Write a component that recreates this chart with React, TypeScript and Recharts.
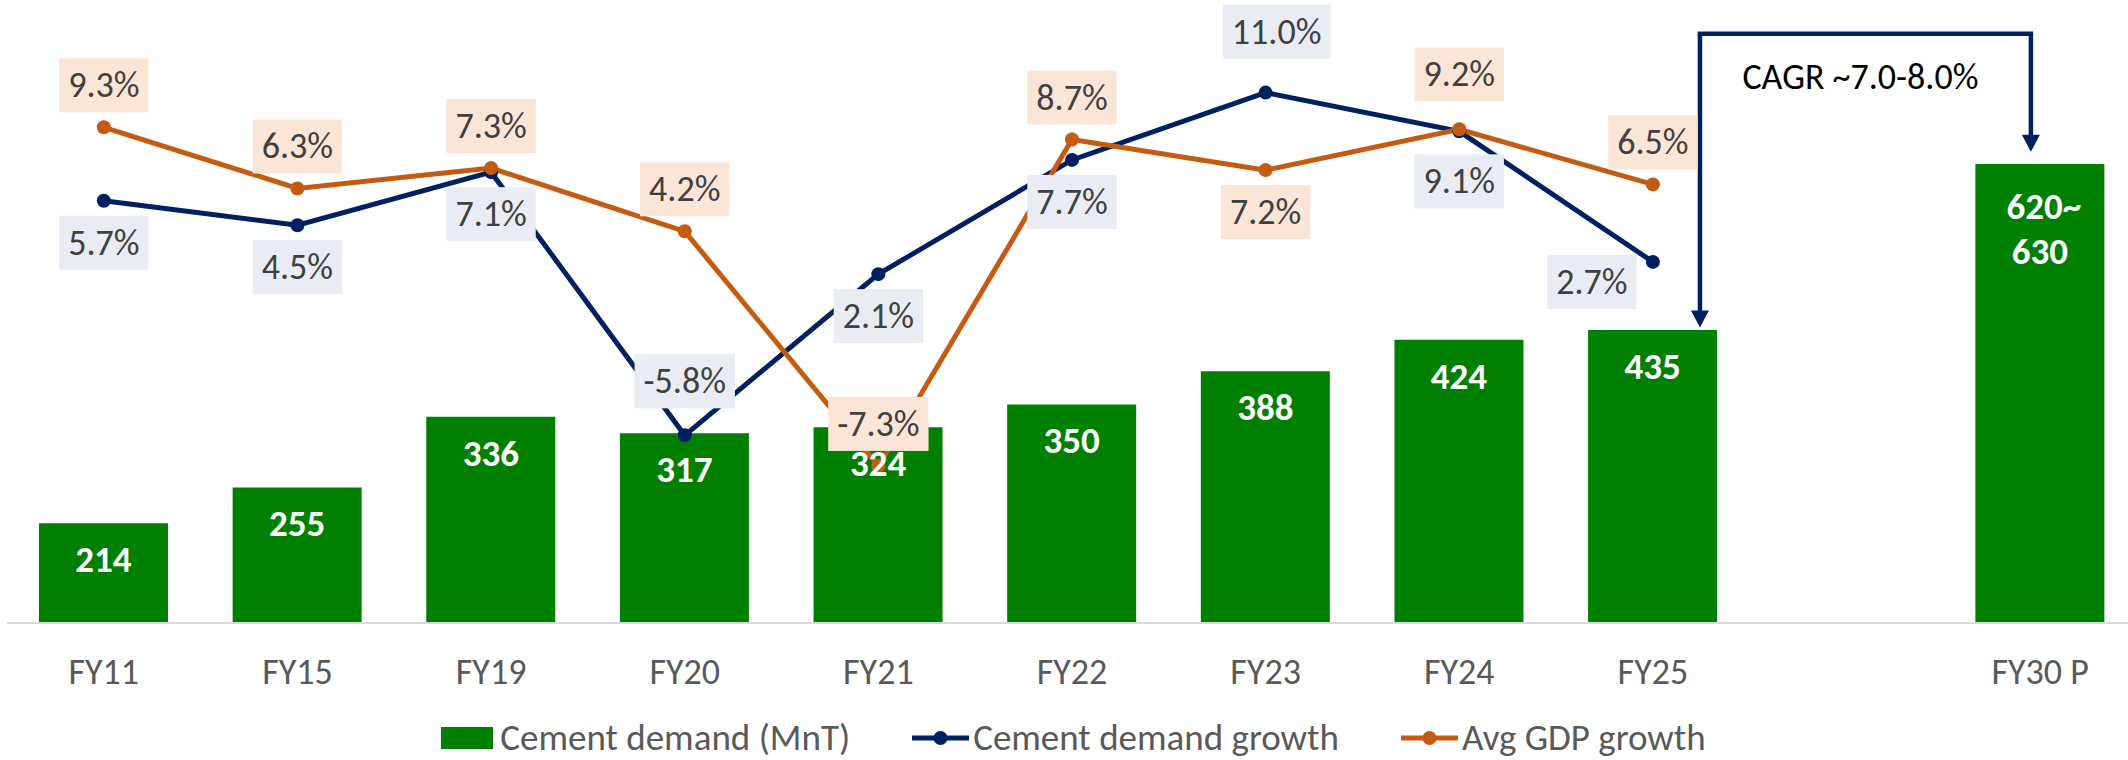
import React from 'react';
import {
  ComposedChart,
  Bar,
  Line,
  XAxis,
  YAxis,
  LabelList,
  Legend,
  ReferenceLine,
} from 'recharts';

// ---------- data ----------
const categories = ['FY11', 'FY15', 'FY19', 'FY20', 'FY21', 'FY22', 'FY23', 'FY24', 'FY25', '', 'FY30 P'];
const cementDemand: (number | null)[] = [214, 255, 336, 317, 324, 350, 388, 424, 435, null, 625];
const cementDemandLabels = ['214', '255', '336', '317', '324', '350', '388', '424', '435', '', '620~|630'];
const cementDemandGrowth: (number | null)[] = [5.7, 4.5, 7.1, -5.8, 2.1, 7.7, 11.0, 9.1, 2.7, null, null];
const avgGdpGrowth: (number | null)[] = [9.3, 6.3, 7.3, 4.2, -7.3, 8.7, 7.2, 9.2, 6.5, null, null];
const seriesNames = ['Cement demand (MnT)', 'Cement demand growth', 'Avg GDP growth'];
const cagrText = 'CAGR ~7.0-8.0%';

// ---------- styling ----------
const FONT = "Carlito, Calibri, 'Liberation Sans Narrow', Lato, 'Open Sans', sans-serif";
const GREEN = '#008000';
const NAVY = '#002060';
const ORANGE = '#C55A11';
const BLUE_BG = '#E9ECF2';
const ORANGE_BG = '#FBE5D6';
const LABEL_TXT = '#404040';
const AXIS_TXT = '#595959';

// label box offsets (box centre relative to the point), per category index
const blueLabelOffset: Record<number, [number, number]> = {
  3: [0, -54],
  6: [11, -61],
  7: [0, 50],
  8: [-61, 20],
};
const orangeLabelOffset: Record<number, [number, number]> = {
  6: [0, 42],
  7: [0, -55],
};

const data = categories.map((c, i) => ({
  cat: c,
  idx: i + 0.5,
  demand: cementDemand[i],
  demandLabel: cementDemandLabels[i],
  growth: cementDemandGrowth[i],
  gdp: avgGdpGrowth[i],
}));

const charW = (ch: string) => {
  if (/[0-9]/.test(ch)) return 0.507;
  if (ch === '.') return 0.252;
  if (ch === '%') return 0.715;
  if (ch === '-') return 0.306;
  return 0.5;
};

const makePctLabel = (kind: 'blue' | 'orange') => (props: any) => {
  const { x, y, value, index } = props;
  if (value === null || value === undefined) return null;
  const txt = `${Number(value).toFixed(1)}%`;
  const fs = 36;
  const w = txt.split('').reduce((s, c) => s + charW(c), 0) * fs + 18;
  const h = 54;
  const def: [number, number] = kind === 'blue' ? [0, 42] : [0, -42];
  const off = (kind === 'blue' ? blueLabelOffset[index] : orangeLabelOffset[index]) || def;
  const cx = x + off[0];
  const cy = y + off[1];
  return (
    <g key={`${kind}-${index}`}>
      <rect x={cx - w / 2} y={cy - h / 2} width={w} height={h} fill={kind === 'blue' ? BLUE_BG : ORANGE_BG} />
      <text x={cx} y={cy + 12} textAnchor="middle" fontSize={fs} fill={LABEL_TXT} fontFamily={FONT}>
        {txt}
      </text>
    </g>
  );
};

const barLabel = (props: any) => {
  const { x, y, width, value, index } = props;
  const lbl = value as string;
  if (!lbl) return null;
  const lines = String(lbl).split('|');
  const cx = x + width / 2;
  if (lines.length === 1) {
    return (
      <text key={`b-${index}`} x={cx} y={y + 49} textAnchor="middle" fontSize={37} fontWeight="bold" fill="#FFFFFF" fontFamily={FONT}>
        {lines[0]}
      </text>
    );
  }
  return (
    <text key={`b-${index}`} textAnchor="middle" fontSize={37} fontWeight="bold" fill="#FFFFFF" fontFamily={FONT}>
      {lines.map((l, k) => (
        <tspan key={k} x={cx + (k === 0 ? 4 : 0)} y={y + 55 + k * 45}>
          {l}
        </tspan>
      ))}
    </text>
  );
};

const XTick = (props: any) => {
  const { x, y, payload } = props;
  return (
    <text x={x} y={y + 61} textAnchor="middle" fontSize={36} fill={AXIS_TXT} fontFamily={FONT}>
      {payload.value}
    </text>
  );
};

const arrowShape = (props: any) => {
  const { x1, y1, x2, y2 } = props;
  return (
    <g>
      <line x1={x1} y1={y1} x2={x2} y2={y2 - 15} stroke={NAVY} strokeWidth={4.5} />
      <polygon points={`${x2 - 9},${y2 - 17} ${x2 + 9},${y2 - 17} ${x2},${y2}`} fill={NAVY} />
    </g>
  );
};

const topShape = (props: any) => {
  const { x1, y1, x2, y2 } = props;
  return (
    <g>
      <line x1={x1 - 2.25} y1={y1} x2={x2 + 2.25} y2={y2} stroke={NAVY} strokeWidth={4.5} />
      <text x={(x1 + x2) / 2 - 5} y={y1 + 55} textAnchor="middle" fontSize={36} fill="#000000" fontFamily={FONT}>
        {cagrText}
      </text>
    </g>
  );
};

const renderLegend = () => (
  <div
    style={{
      display: 'flex',
      justifyContent: 'center',
      alignItems: 'center',
      fontFamily: FONT,
      fontSize: 37,
      color: AXIS_TXT,
      lineHeight: '38px',
      height: 38,
      paddingLeft: 10,
    }}
  >
    <span style={{ display: 'inline-block', width: 52, height: 22, background: GREEN, marginRight: 7 }} />
    <span>{seriesNames[0]}</span>
    <svg width={57} height={20} style={{ marginLeft: 62, marginRight: 4 }}>
      <line x1={0} y1={10} x2={57} y2={10} stroke={NAVY} strokeWidth={5} />
      <circle cx={28.5} cy={10} r={7} fill={NAVY} />
    </svg>
    <span>{seriesNames[1]}</span>
    <svg width={57} height={20} style={{ marginLeft: 62, marginRight: 4 }}>
      <line x1={0} y1={10} x2={57} y2={10} stroke={ORANGE} strokeWidth={5} />
      <circle cx={28.5} cy={10} r={7} fill={ORANGE} />
    </svg>
    <span>{seriesNames[2]}</span>
  </div>
);

export default function App() {
  return (
    <div style={{ position: 'absolute', left: 0, top: 0, width: 2128, height: 760, overflow: 'hidden', background: '#fff' }}>
      <ComposedChart width={2137} height={760} data={data} margin={{ top: 11, right: 0, left: 7, bottom: 0 }}>
        <XAxis
          dataKey="cat"
          xAxisId="cat"
          height={137}
          tickLine={false}
          tickSize={0}
          tickMargin={0}
          axisLine={{ stroke: '#D9D9D9', strokeWidth: 2 }}
          tick={<XTick />}
          interval={0}
        />
        <XAxis xAxisId="num" dataKey="idx" type="number" domain={[0, 11]} allowDataOverflow hide />
        <YAxis yAxisId="left" domain={[100, 800]} allowDataOverflow hide />
        <YAxis yAxisId="right" domain={[-15, 15]} allowDataOverflow hide />
        <Bar xAxisId="cat" yAxisId="left" dataKey="demand" fill={GREEN} barSize={129} isAnimationActive={false} name={seriesNames[0]}>
          <LabelList dataKey="demandLabel" content={barLabel} />
        </Bar>
        <Line
          xAxisId="cat"
          yAxisId="right"
          type="linear"
          dataKey="growth"
          stroke={NAVY}
          strokeWidth={5}
          dot={{ r: 7, fill: NAVY, stroke: NAVY, strokeWidth: 0 }}
          activeDot={false}
          isAnimationActive={false}
          name={seriesNames[1]}
        >
          <LabelList dataKey="growth" content={makePctLabel('blue')} />
        </Line>
        <Line
          xAxisId="cat"
          yAxisId="right"
          type="linear"
          dataKey="gdp"
          stroke={ORANGE}
          strokeWidth={5}
          dot={{ r: 7, fill: ORANGE, stroke: ORANGE, strokeWidth: 0 }}
          activeDot={false}
          isAnimationActive={false}
          name={seriesNames[2]}
        >
          <LabelList dataKey="gdp" content={makePctLabel('orange')} />
        </Line>
        <ReferenceLine
          xAxisId="num"
          yAxisId="left"
          segment={[{ x: 8.743, y: 774 }, { x: 8.743, y: 438 }]}
          shape={arrowShape}
          ifOverflow="visible"
        />
        <ReferenceLine
          xAxisId="num"
          yAxisId="left"
          segment={[{ x: 10.452, y: 774 }, { x: 10.452, y: 639 }]}
          shape={arrowShape}
          ifOverflow="visible"
        />
        <ReferenceLine
          xAxisId="num"
          yAxisId="left"
          segment={[{ x: 8.743, y: 774 }, { x: 10.452, y: 774 }]}
          shape={topShape}
          ifOverflow="visible"
        />
        <Legend
          layout="horizontal"
          verticalAlign="middle"
          align="center"
          wrapperStyle={{ top: 719, left: 0, width: 2137, height: 38 }}
          content={renderLegend}
        />
      </ComposedChart>
    </div>
  );
}
